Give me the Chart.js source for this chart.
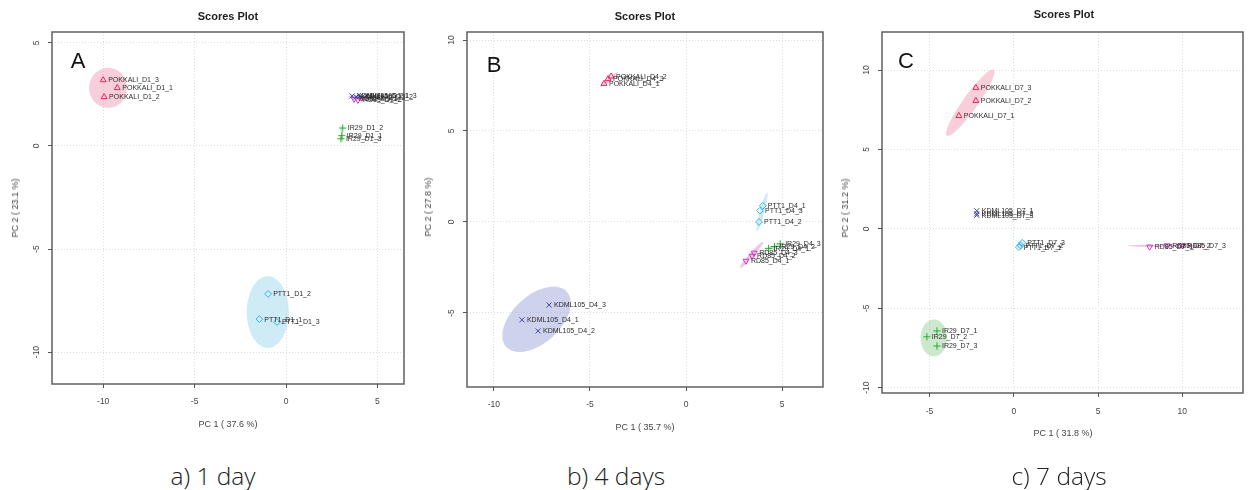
<!DOCTYPE html>
<html>
<head>
<meta charset="utf-8">
<script src="https://cdn.jsdelivr.net/npm/chart.js@4.4.1/dist/chart.umd.min.js"></script>
<style>
  html,body{margin:0;padding:0;background:#fff;}
  #wrap{position:relative;width:1248px;height:490px;background:#fff;overflow:hidden;}
  canvas{position:absolute;top:0;}
  .t{position:absolute;transform:translate(-50%,-50%);white-space:nowrap;font-family:"Liberation Sans",Arial,sans-serif;}
  .title{font-size:11px;font-weight:bold;color:#222;}
  .axt{font-size:9px;color:#444;}
  .yt{transform:translate(-50%,-50%) rotate(-90deg);}
  .let{font-size:22px;color:#111;}
  .cap{font-family:"Open Sans","Liberation Sans",sans-serif;font-weight:300;font-size:24.5px;color:#222;}
</style>
</head>
<body>
<div id="wrap">
  <canvas id="cA" width="420" height="440" style="left:0px"></canvas>
  <canvas id="cB" width="410" height="440" style="left:420px"></canvas>
  <canvas id="cC" width="418" height="440" style="left:830px"></canvas>

  <div class="t title" style="left:228px;top:16px">Scores Plot</div>
  <div class="t title" style="left:645px;top:16px">Scores Plot</div>
  <div class="t title" style="left:1064px;top:14px">Scores Plot</div>

  <div class="t axt" style="left:228px;top:424px">PC 1 ( 37.6 %)</div>
  <div class="t axt" style="left:645px;top:427px">PC 1 ( 35.7 %)</div>
  <div class="t axt" style="left:1063px;top:433px">PC 1 ( 31.8 %)</div>

  <div class="t axt yt" style="left:15px;top:208px">PC 2 ( 23.1 %)</div>
  <div class="t axt yt" style="left:428px;top:207px">PC 2 ( 27.8 %)</div>
  <div class="t axt yt" style="left:845px;top:208px">PC 2 ( 31.2 %)</div>

  <div class="t let" style="left:78px;top:61px">A</div>
  <div class="t let" style="left:494px;top:65px">B</div>
  <div class="t let" style="left:906px;top:61px">C</div>

  <div class="t cap" style="left:213px;top:475px">a) 1 day</div>
  <div class="t cap" style="left:616px;top:475px">b) 4 days</div>
  <div class="t cap" style="left:1059px;top:475px">c) 7 days</div>
</div>
<script>
// ---------- DATA ----------
const groups = ['POKKALI','KDML105','PTT1','IR29','RD85'];

// Day 1
const d1Labels = ['POKKALI_D1_1','POKKALI_D1_2','POKKALI_D1_3','KDML105_D1_1','KDML105_D1_2','KDML105_D1_3','PTT1_D1_1','PTT1_D1_2','PTT1_D1_3','IR29_D1_1','IR29_D1_2','IR29_D1_3','RD85_D1_1','RD85_D1_2','RD85_D1_3'];
const d1X = [-9.23,-9.95,-10.0, 3.61,3.83,4.04, -1.46,-0.98,-0.50, 3.05,3.10,3.00, 3.72,3.93,4.15];
const d1Y = [2.82,2.38,3.20, 2.43,2.38,2.43, -8.40,-7.18,-8.54, 0.50,0.87,0.35, 2.28,2.23,2.33];
// ellipses: [group, centerX, centerY, semiA, semiB, angleDeg]
const d1Ellipses = [
  ['POKKALI',-9.73,2.82,1.04,0.97,0],
  ['PTT1',-1.0,-8.06,1.15,1.74,0],
  ['IR29',3.05,0.58,0.44,0.05,97],
  ['KDML105',3.8,2.38,0.4,0.09,0],
  ['RD85',3.92,2.28,0.35,0.08,-8]
];

// Day 4
const d4Labels = ['POKKALI_D4_1','POKKALI_D4_2','POKKALI_D4_3','KDML105_D4_1','KDML105_D4_2','KDML105_D4_3','PTT1_D4_1','PTT1_D4_2','PTT1_D4_3','IR29_D4_1','IR29_D4_2','IR29_D4_3','RD85_D4_1','RD85_D4_2','RD85_D4_3'];
const d4X = [-4.27,-3.90,-4.06, -8.54,-7.70,-7.13, 4.00,3.80,3.85, 4.30,4.60,4.90, 3.12,3.44,3.55];
const d4Y = [7.60,8.00,7.86, -5.38,-5.99,-4.56, 0.89,0.00,0.62, -1.45,-1.35,-1.20, -2.14,-1.87,-1.70];
const d4Ellipses = [
  ['POKKALI',-4.01,7.83,0.62,0.1,41],
  ['KDML105',-7.78,-5.35,2.19,1.27,45.5],
  ['PTT1',3.96,0.55,1.1,0.12,76],
  ['IR29',4.63,-1.35,0.56,0.08,20],
  ['RD85',3.41,-1.81,0.93,0.12,50]
];

// Day 7
const d7Labels = ['POKKALI_D7_1','POKKALI_D7_2','POKKALI_D7_3','KDML105_D7_1','KDML105_D7_2','KDML105_D7_3','PTT1_D7_1','PTT1_D7_2','PTT1_D7_3','IR29_D7_1','IR29_D7_2','IR29_D7_3','RD85_D7_1','RD85_D7_2','RD85_D7_3'];
const d7X = [-3.26,-2.25,-2.25, -2.20,-2.20,-2.20, 0.30,0.40,0.50, -4.56,-5.16,-4.56, 8.06,9.10,10.00];
const d7Y = [7.12,8.07,8.89, 1.14,0.95,0.85, -1.15,-1.05,-0.88, -6.43,-6.80,-7.38, -1.13,-1.05,-1.05];
const d7Ellipses = [
  ['POKKALI',-2.58,7.95,2.5,0.45,56.3],
  ['KDML105',-2.2,1.0,0.2,0.07,90],
  ['PTT1',0.4,-1.0,0.25,0.18,45],
  ['IR29',-4.74,-6.87,0.79,1.16,0],
  ['RD85',9.13,-1.07,2.37,0.08,0]
];

// tick values
const ticksA_x = [-10,-5,0,5];   const ticksA_y = [-10,-5,0,5];
const ticksB_x = [-10,-5,0,5];   const ticksB_y = [-5,0,5,10];
const ticksC_x = [-5,0,5,10];    const ticksC_y = [-10,-5,0,5,10];

// ---------- STYLES ----------
const colors = {POKKALI:'#e8245e', KDML105:'#4048b0', PTT1:'#35b4e0', IR29:'#2ea836', RD85:'#c83cbf'};
const fills  = {POKKALI:'rgba(244,165,190,0.55)', KDML105:'rgba(158,165,218,0.5)', PTT1:'rgba(175,222,240,0.6)', IR29:'rgba(155,212,155,0.5)', RD85:'rgba(235,145,215,0.55)'};
const styles = {POKKALI:['triangle',0], KDML105:['crossRot',0], PTT1:['rectRot',0], IR29:['cross',0], RD85:['triangle',180]};
const FONT = '"Liberation Sans", Arial, sans-serif';

function buildDatasets(labels, xs, ys){
  return groups.map(g=>{
    const idx = labels.map((l,i)=>i).filter(i=>labels[i].startsWith(g+'_'));
    return {
      label:g,
      data: idx.map(i=>({x:xs[i], y:ys[i], name:labels[i]})),
      pointStyle: styles[g][0],
      rotation: styles[g][1],
      radius: g==='IR29'||g==='KDML105' ? 3.6 : 3.4,
      borderColor: colors[g],
      backgroundColor: 'rgba(0,0,0,0)',
      borderWidth: 1,
      showLine:false
    };
  });
}

const ellipsePlugin = {
  id:'ell',
  beforeDatasetsDraw(chart){
    const ells = chart.options.plugins.ell.list;
    const xs = chart.scales.x, ys = chart.scales.y, ctx = chart.ctx, ca = chart.chartArea;
    ctx.save();
    ctx.beginPath(); ctx.rect(ca.left, ca.top, ca.right-ca.left, ca.bottom-ca.top); ctx.clip();
    ells.forEach(e=>{
      const [g,cx,cy,a,b,ang] = e;
      const th = ang*Math.PI/180;
      ctx.beginPath();
      for(let k=0;k<=72;k++){
        const t = k/72*2*Math.PI;
        const dx = a*Math.cos(t), dy = b*Math.sin(t);
        const px = xs.getPixelForValue(cx + dx*Math.cos(th) - dy*Math.sin(th));
        const py = ys.getPixelForValue(cy + dx*Math.sin(th) + dy*Math.cos(th));
        if(k===0) ctx.moveTo(px,py); else ctx.lineTo(px,py);
      }
      ctx.closePath();
      ctx.fillStyle = fills[g];
      ctx.fill();
    });
    ctx.restore();
  },
  afterDatasetsDraw(chart){
    const ctx = chart.ctx;
    ctx.save();
    ctx.font = '7px '+FONT;
    ctx.fillStyle = '#2a2a2a';
    ctx.textAlign = 'left'; ctx.textBaseline = 'middle';
    chart.data.datasets.forEach((ds,di)=>{
      const meta = chart.getDatasetMeta(di);
      meta.data.forEach((el,i)=>{
        ctx.fillText(ds.data[i].name, el.x+5, el.y+0.5);
      });
    });
    ctx.restore();
  },
  afterDraw(chart){
    const ctx = chart.ctx, ca = chart.chartArea, ys = chart.scales.y;
    ctx.save();
    ctx.strokeStyle = '#555'; ctx.lineWidth = 1.4;
    ctx.strokeRect(ca.left, ca.top, ca.right-ca.left, ca.bottom-ca.top);
    ctx.font = '8.5px '+FONT; ctx.fillStyle = '#444';
    ctx.textAlign = 'center'; ctx.textBaseline = 'middle';
    chart.options.plugins.ell.yt.forEach(v=>{
      const py = ys.getPixelForValue(v);
      ctx.save(); ctx.translate(ca.left-15, py); ctx.rotate(-Math.PI/2);
      ctx.fillText(String(v), 0, 0); ctx.restore();
    });
    ctx.restore();
  }
};

function makeChart(id, labels, xs, ys, ells, box, xr, yr, xt, yt, xLabelGap){
  const cv = document.getElementById(id);
  const W = cv.width, H = cv.height;
  new Chart(cv, {
    type:'scatter',
    data:{datasets: buildDatasets(labels, xs, ys)},
    options:{
      responsive:false, animation:false, devicePixelRatio:1,
      layout:{padding:{left:0, top:box.top, right:W-box.right, bottom:0}},
      plugins:{legend:{display:false}, tooltip:{enabled:false}, ell:{list:ells, yt:yt}},
      scales:{
        x:{type:'linear', min:xr[0], max:xr[1],
           afterFit(s){ s.height = H - box.bottom; },
           afterBuildTicks(s){ s.ticks = xt.map(v=>({value:v})); },
           ticks:{font:{family:FONT,size:8.5}, color:'#444', padding:xLabelGap, maxRotation:0, minRotation:0, includeBounds:false},
           grid:{color:'#dedede', tickColor:'#555', tickLength:4, lineWidth:1},
           border:{display:false, dash:[1,2]}},
        y:{type:'linear', min:yr[0], max:yr[1],
           afterFit(s){ s.width = box.left; },
           afterBuildTicks(s){ s.ticks = yt.map(v=>({value:v})); },
           ticks:{display:false, includeBounds:false},
           grid:{color:'#dedede', tickColor:'#555', tickLength:4, lineWidth:1},
           border:{display:false, dash:[1,2]}}
      }
    },
    plugins:[ellipsePlugin]
  });
}

makeChart('cA', d1Labels, d1X, d1Y, d1Ellipses, {left:52, top:32, right:404, bottom:384}, [-12.8,6.45], [-11.55,5.53], ticksA_x, ticksA_y, 9);
makeChart('cB', d4Labels, d4X, d4Y, d4Ellipses, {left:47, top:32, right:403, bottom:387}, [-11.4,7.13], [-9.07,10.44], ticksB_x, ticksB_y, 9);
makeChart('cC', d7Labels, d7X, d7Y, d7Ellipses, {left:52, top:32, right:414, bottom:393}, [-7.82,13.6], [-10.34,12.4], ticksC_x, ticksC_y, 10);
</script>
</body>
</html>
